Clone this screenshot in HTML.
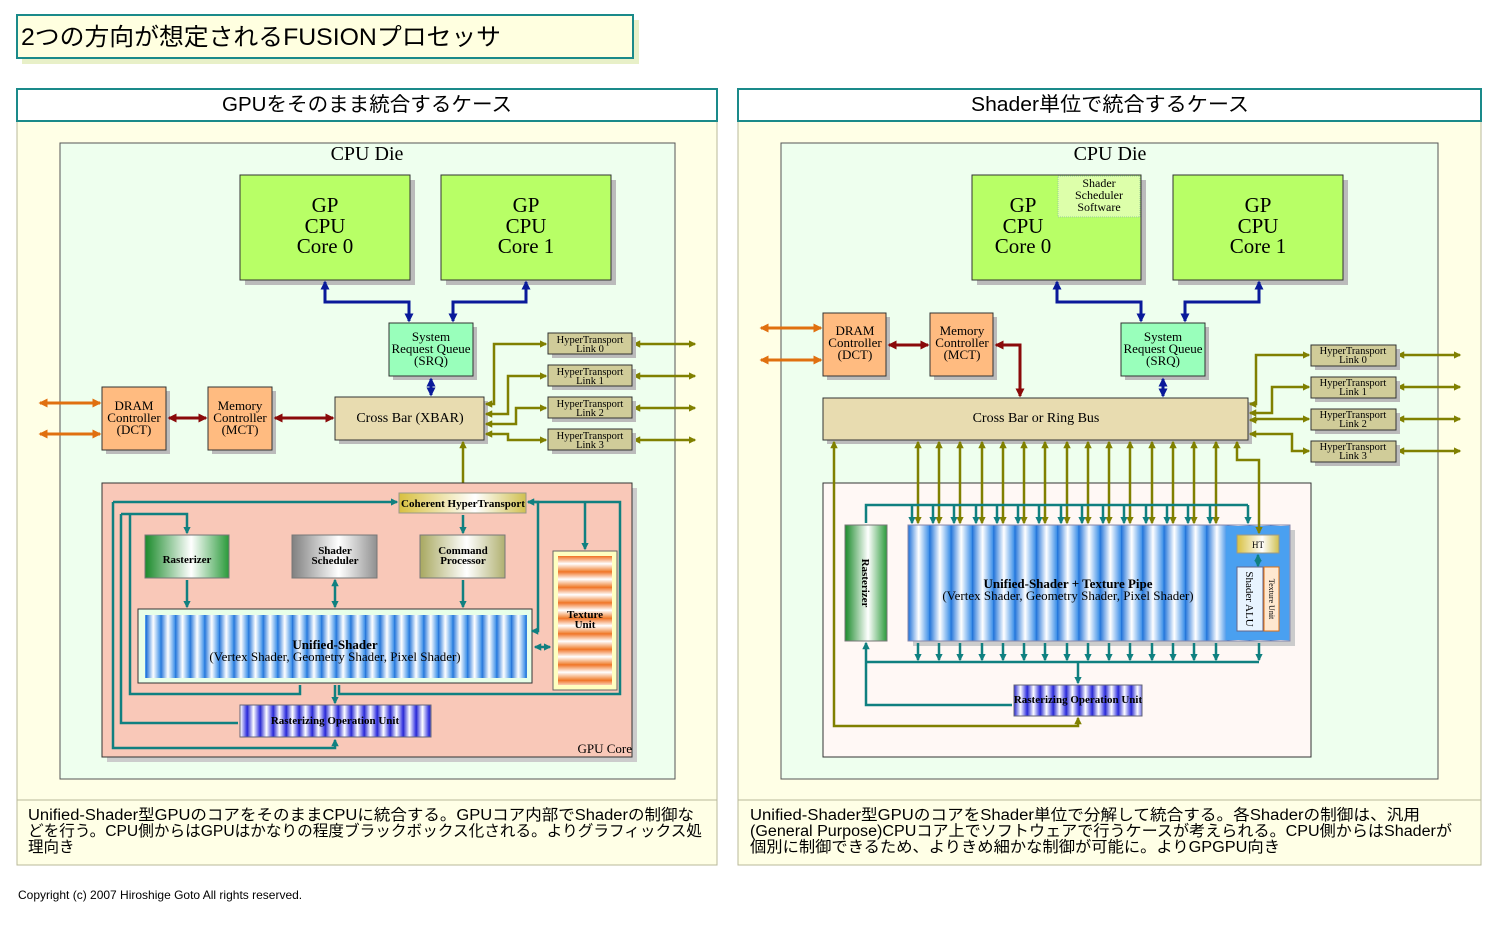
<!DOCTYPE html>
<html><head><meta charset="utf-8"><style>
html,body{margin:0;padding:0;background:#fff}
svg{display:block}
.s{font-family:"Liberation Serif","Noto Serif CJK SC",serif}
.j{font-family:"Liberation Sans","Noto Sans CJK JP",sans-serif}
</style></head><body>
<svg width="1500" height="925" viewBox="0 0 1500 925" xmlns="http://www.w3.org/2000/svg">
<defs>
<linearGradient id="bs" x1="0" x2="1"><stop offset="0" stop-color="#1a6fd8"/><stop offset="0.5" stop-color="#ffffff"/><stop offset="1" stop-color="#3a8ee8"/></linearGradient>
<pattern id="us" width="14.6" height="10" patternUnits="userSpaceOnUse"><rect width="14.6" height="10" fill="url(#bs)"/></pattern>
<pattern id="us2" width="21.3" height="10" patternUnits="userSpaceOnUse" x="908"><rect width="21.3" height="10" fill="url(#bs)"/></pattern>
<linearGradient id="ps" x1="0" x2="1"><stop offset="0" stop-color="#2020d0"/><stop offset="0.5" stop-color="#ffffff"/><stop offset="1" stop-color="#3030e0"/></linearGradient>
<pattern id="rop" width="13" height="10" patternUnits="userSpaceOnUse"><rect width="13" height="10" fill="url(#ps)"/></pattern>
<linearGradient id="os" x1="0" y1="0" x2="0" y2="1"><stop offset="0" stop-color="#f07020"/><stop offset="0.5" stop-color="#ffffff"/><stop offset="1" stop-color="#f08030"/></linearGradient>
<pattern id="tex" width="10" height="15.5" patternUnits="userSpaceOnUse" y="556"><rect width="10" height="15.5" fill="url(#os)"/></pattern>
<linearGradient id="gr" x1="0" x2="1"><stop offset="0" stop-color="#1a8a2a"/><stop offset="0.55" stop-color="#ffffff"/><stop offset="1" stop-color="#2a9a3a"/></linearGradient>
<linearGradient id="gy" x1="0" x2="1"><stop offset="0" stop-color="#808080"/><stop offset="0.55" stop-color="#ffffff"/><stop offset="1" stop-color="#909090"/></linearGradient>
<linearGradient id="ol" x1="0" x2="1"><stop offset="0" stop-color="#a8a860"/><stop offset="0.55" stop-color="#ffffff"/><stop offset="1" stop-color="#b0b070"/></linearGradient>
<linearGradient id="ht" x1="0" x2="1"><stop offset="0" stop-color="#d8c040"/><stop offset="0.6" stop-color="#ffffff"/><stop offset="1" stop-color="#d0c050"/></linearGradient>
<marker id="ab" viewBox="0 0 6 6" refX="5" refY="3" markerWidth="3" markerHeight="3" orient="auto-start-reverse"><path d="M0,0L6,3L0,6z" fill="#0a1a9a"/></marker>
<marker id="ao" viewBox="0 0 6 6" refX="5" refY="3" markerWidth="3" markerHeight="3" orient="auto-start-reverse"><path d="M0,0L6,3L0,6z" fill="#808000"/></marker>
<marker id="at" viewBox="0 0 6 6" refX="5" refY="3" markerWidth="3" markerHeight="3" orient="auto-start-reverse"><path d="M0,0L6,3L0,6z" fill="#108080"/></marker>
<marker id="ar" viewBox="0 0 6 6" refX="5" refY="3" markerWidth="3" markerHeight="3" orient="auto-start-reverse"><path d="M0,0L6,3L0,6z" fill="#8a0a0a"/></marker>
<marker id="aor" viewBox="0 0 6 6" refX="5" refY="3" markerWidth="3" markerHeight="3" orient="auto-start-reverse"><path d="M0,0L6,3L0,6z" fill="#e07010"/></marker>
</defs>

<!-- title -->
<rect x="22" y="20" width="617" height="44" fill="#e8f0c8"/>
<rect x="17" y="15" width="616" height="43" fill="#ffffe0" stroke="#1a8a8a" stroke-width="2"/>
<text x="21" y="45" class="j" font-size="24" textLength="480" lengthAdjust="spacingAndGlyphs">2つの方向が想定されるFUSIONプロセッサ</text>

<!-- LEFT PANEL -->
<rect x="17" y="121" width="700" height="744" fill="#ffffe6" stroke="#b8b89a"/>
<rect x="17" y="89" width="700" height="32" fill="#fff" stroke="#1a8a8a" stroke-width="2"/>
<text x="367" y="111" class="j" font-size="20" text-anchor="middle" textLength="290" lengthAdjust="spacingAndGlyphs">GPUをそのまま統合するケース</text>
<line x1="17" y1="800" x2="717" y2="800" stroke="#b8b89a"/>
<g class="j" font-size="15.5">
<text x="28" y="820" textLength="666" lengthAdjust="spacingAndGlyphs">Unified-Shader型GPUのコアをそのままCPUに統合する。GPUコア内部でShaderの制御な</text>
<text x="28" y="836" textLength="674" lengthAdjust="spacingAndGlyphs">どを行う。CPU側からはGPUはかなりの程度ブラックボックス化される。よりグラフィックス処</text>
<text x="28" y="852">理向き</text>
</g>
<rect x="60" y="143" width="615" height="636" fill="#eeffee" stroke="#555"/>
<text x="367" y="160" class="s" font-size="20" text-anchor="middle">CPU Die</text>

<g class="s">
<rect x="245" y="180" width="170" height="105" fill="#bbb"/>
<rect x="240" y="175" width="170" height="105" fill="#b8ff66" stroke="#333"/>
<text x="325" y="212" font-size="21" text-anchor="middle">GP</text><text x="325" y="233" font-size="21" text-anchor="middle">CPU</text><text x="325" y="253" font-size="21" text-anchor="middle">Core 0</text>
<rect x="446" y="180" width="170" height="105" fill="#bbb"/>
<rect x="441" y="175" width="170" height="105" fill="#b8ff66" stroke="#333"/>
<text x="526" y="212" font-size="21" text-anchor="middle">GP</text><text x="526" y="233" font-size="21" text-anchor="middle">CPU</text><text x="526" y="253" font-size="21" text-anchor="middle">Core 1</text>

<path d="M325,282V302H409V321" fill="none" stroke="#0a1a9a" stroke-width="3" marker-start="url(#ab)" marker-end="url(#ab)"/>
<path d="M526,282V302H453V321" fill="none" stroke="#0a1a9a" stroke-width="3" marker-start="url(#ab)" marker-end="url(#ab)"/>
<rect x="393" y="327" width="84" height="53" fill="#bbb"/>
<rect x="389" y="323" width="84" height="53" fill="#99ffbb" stroke="#333"/>
<text x="431" y="341" font-size="13" text-anchor="middle">System</text><text x="431" y="353" font-size="13" text-anchor="middle">Request Queue</text><text x="431" y="365" font-size="13" text-anchor="middle">(SRQ)</text>
<path d="M431,379V395" stroke="#0a1a9a" stroke-width="3" marker-start="url(#ab)" marker-end="url(#ab)"/>

<rect x="106" y="391" width="64" height="63" fill="#bbb"/>
<rect x="102" y="387" width="64" height="63" fill="#ffbb80" stroke="#333"/>
<text x="134" y="410" font-size="13" text-anchor="middle">DRAM</text><text x="134" y="422" font-size="13" text-anchor="middle">Controller</text><text x="134" y="434" font-size="13" text-anchor="middle">(DCT)</text>
<rect x="212" y="391" width="64" height="63" fill="#bbb"/>
<rect x="208" y="387" width="64" height="63" fill="#ffbb80" stroke="#333"/>
<text x="240" y="410" font-size="13" text-anchor="middle">Memory</text><text x="240" y="422" font-size="13" text-anchor="middle">Controller</text><text x="240" y="434" font-size="13" text-anchor="middle">(MCT)</text>
<g stroke="#e07010" stroke-width="3" marker-start="url(#aor)" marker-end="url(#aor)">
<path d="M40,403H100"/><path d="M40,434H100"/></g>
<g stroke="#8a0a0a" stroke-width="3" marker-start="url(#ar)" marker-end="url(#ar)">
<path d="M169,418H206"/><path d="M275,418H333"/></g>

<rect x="339" y="401" width="149" height="43" fill="#bbb"/>
<rect x="335" y="397" width="149" height="43" fill="#e8dcb0" stroke="#333"/>
<text x="410" y="422" font-size="14" text-anchor="middle">Cross Bar (XBAR)</text>

<g fill="none" stroke="#808000" stroke-width="2.5" marker-start="url(#ao)" marker-end="url(#ao)">
<path d="M486,404H494V344H546"/>
<path d="M486,414H508V376H546"/>
<path d="M486,424H516V408H546"/>
<path d="M486,434H508V440H546"/>
<path d="M634,344H695"/><path d="M634,376H695"/><path d="M634,408H695"/><path d="M634,440H695"/>
</g>
<path d="M463,442V491" fill="none" stroke="#808000" stroke-width="2.5" marker-start="url(#ao)"/>
<g font-size="10.5" text-anchor="middle">
<rect x="552" y="337" width="84" height="21" fill="#bbb"/><rect x="548" y="333" width="84" height="21" fill="#d0cc99" stroke="#333"/><text x="590" y="343">HyperTransport</text><text x="590" y="352">Link 0</text>
<rect x="552" y="369" width="84" height="21" fill="#bbb"/><rect x="548" y="365" width="84" height="21" fill="#d0cc99" stroke="#333"/><text x="590" y="375">HyperTransport</text><text x="590" y="384">Link 1</text>
<rect x="552" y="401" width="84" height="21" fill="#bbb"/><rect x="548" y="397" width="84" height="21" fill="#d0cc99" stroke="#333"/><text x="590" y="407">HyperTransport</text><text x="590" y="416">Link 2</text>
<rect x="552" y="433" width="84" height="21" fill="#bbb"/><rect x="548" y="429" width="84" height="21" fill="#d0cc99" stroke="#333"/><text x="590" y="439">HyperTransport</text><text x="590" y="448">Link 3</text>
</g>

<!-- GPU core -->
<rect x="107" y="488" width="530" height="274" fill="#ccc"/>
<rect x="102" y="483" width="530" height="274" fill="#f9c8b8" stroke="#333"/>
<text x="632" y="753" font-size="13" text-anchor="end">GPU Core</text>
<rect x="399" y="493" width="127" height="20" fill="url(#ht)" stroke="#998"/>
<text x="463" y="507" font-size="11" font-weight="bold" text-anchor="middle">Coherent HyperTransport</text>
<rect x="145" y="535" width="84" height="43" fill="url(#gr)" stroke="#777"/>
<text x="187" y="563" font-size="11" font-weight="bold" text-anchor="middle">Rasterizer</text>
<rect x="292" y="535" width="85" height="43" fill="url(#gy)" stroke="#777"/>
<text x="335" y="554" font-size="11" font-weight="bold" text-anchor="middle">Shader</text><text x="335" y="564" font-size="11" font-weight="bold" text-anchor="middle">Scheduler</text>
<rect x="420" y="535" width="85" height="43" fill="url(#ol)" stroke="#777"/>
<text x="463" y="554" font-size="11" font-weight="bold" text-anchor="middle">Command</text><text x="463" y="564" font-size="11" font-weight="bold" text-anchor="middle">Processor</text>
<rect x="553" y="551" width="64" height="139" fill="#ffffc0" stroke="#666"/>
<rect x="558" y="556" width="54" height="129" fill="url(#tex)"/>
<text x="585" y="618" font-size="11" font-weight="bold" text-anchor="middle">Texture</text><text x="585" y="628" font-size="11" font-weight="bold" text-anchor="middle">Unit</text>
<rect x="138" y="609" width="394" height="74" fill="#e8ffe8" stroke="#333"/>
<rect x="145" y="615" width="382" height="63" fill="url(#us)"/>
<text x="335" y="649" font-size="13" font-weight="bold" text-anchor="middle">Unified-Shader</text>
<text x="335" y="661" font-size="13" text-anchor="middle">(Vertex Shader, Geometry Shader, Pixel Shader)</text>
<rect x="240" y="705" width="191" height="32" fill="url(#rop)" stroke="#667"/>
<text x="335" y="724" font-size="11" font-weight="bold" text-anchor="middle">Rasterizing Operation Unit</text>

<g fill="none" stroke="#108080" stroke-width="2.5">
<path d="M113,502H397" marker-end="url(#at)"/>
<path d="M113,502V748H335V740" marker-end="url(#at)"/>
<path d="M528,502H620V694H339V685"/>
<path d="M528,502H538V631H532" marker-start="url(#at)" marker-end="url(#at)"/>
<path d="M585,502V549" marker-end="url(#at)"/>
<path d="M121,514H187V533" marker-end="url(#at)"/>
<path d="M121,514V723H238"/>
<path d="M130,514V694H300V685"/>
<path d="M187,580V607" marker-end="url(#at)"/>
<path d="M335,580V607" marker-start="url(#at)" marker-end="url(#at)"/>
<path d="M463,515V533" marker-end="url(#at)"/>
<path d="M463,580V607" marker-end="url(#at)"/>
<path d="M535,647H550" marker-start="url(#at)" marker-end="url(#at)"/>
<path d="M335,685V703" marker-end="url(#at)"/>
</g>
</g>

<!-- RIGHT PANEL -->
<rect x="738" y="121" width="743" height="744" fill="#ffffe6" stroke="#b8b89a"/>
<rect x="738" y="89" width="743" height="32" fill="#fff" stroke="#1a8a8a" stroke-width="2"/>
<text x="1110" y="111" class="j" font-size="20" text-anchor="middle" textLength="278" lengthAdjust="spacingAndGlyphs">Shader単位で統合するケース</text>
<line x1="738" y1="800" x2="1481" y2="800" stroke="#b8b89a"/>
<g class="j" font-size="15.5">
<text x="750" y="820" textLength="670" lengthAdjust="spacingAndGlyphs">Unified-Shader型GPUのコアをShader単位で分解して統合する。各Shaderの制御は、汎用</text>
<text x="750" y="836" textLength="702" lengthAdjust="spacingAndGlyphs">(General Purpose)CPUコア上でソフトウェアで行うケースが考えられる。CPU側からはShaderが</text>
<text x="750" y="852" textLength="530" lengthAdjust="spacingAndGlyphs">個別に制御できるため、よりきめ細かな制御が可能に。よりGPGPU向き</text>
</g>
<rect x="781" y="143" width="657" height="636" fill="#eeffee" stroke="#555"/>
<text x="1110" y="160" class="s" font-size="20" text-anchor="middle">CPU Die</text>

<g class="s">
<rect x="977" y="180" width="169" height="105" fill="#bbb"/>
<rect x="972" y="175" width="169" height="105" fill="#b8ff66" stroke="#333"/>
<rect x="1058" y="176" width="82" height="41" fill="#ddffaa" stroke="#9c9" stroke-dasharray="1,1"/>
<text x="1099" y="187" font-size="12" text-anchor="middle">Shader</text><text x="1099" y="199" font-size="12" text-anchor="middle">Scheduler</text><text x="1099" y="211" font-size="12" text-anchor="middle">Software</text>
<text x="1023" y="212" font-size="21" text-anchor="middle">GP</text><text x="1023" y="233" font-size="21" text-anchor="middle">CPU</text><text x="1023" y="253" font-size="21" text-anchor="middle">Core 0</text>
<rect x="1178" y="180" width="170" height="105" fill="#bbb"/>
<rect x="1173" y="175" width="170" height="105" fill="#b8ff66" stroke="#333"/>
<text x="1258" y="212" font-size="21" text-anchor="middle">GP</text><text x="1258" y="233" font-size="21" text-anchor="middle">CPU</text><text x="1258" y="253" font-size="21" text-anchor="middle">Core 1</text>
<path d="M1057,282V302H1141V321" fill="none" stroke="#0a1a9a" stroke-width="3" marker-start="url(#ab)" marker-end="url(#ab)"/>
<path d="M1259,282V302H1185V321" fill="none" stroke="#0a1a9a" stroke-width="3" marker-start="url(#ab)" marker-end="url(#ab)"/>
<rect x="1125" y="327" width="84" height="53" fill="#bbb"/>
<rect x="1121" y="323" width="84" height="53" fill="#99ffbb" stroke="#333"/>
<text x="1163" y="341" font-size="13" text-anchor="middle">System</text><text x="1163" y="353" font-size="13" text-anchor="middle">Request Queue</text><text x="1163" y="365" font-size="13" text-anchor="middle">(SRQ)</text>
<path d="M1163,379V396" stroke="#0a1a9a" stroke-width="3" marker-start="url(#ab)" marker-end="url(#ab)"/>

<rect x="827" y="317" width="63" height="63" fill="#bbb"/>
<rect x="823" y="313" width="63" height="63" fill="#ffbb80" stroke="#333"/>
<text x="855" y="335" font-size="13" text-anchor="middle">DRAM</text><text x="855" y="347" font-size="13" text-anchor="middle">Controller</text><text x="855" y="359" font-size="13" text-anchor="middle">(DCT)</text>
<rect x="934" y="317" width="63" height="63" fill="#bbb"/>
<rect x="930" y="313" width="63" height="63" fill="#ffbb80" stroke="#333"/>
<text x="962" y="335" font-size="13" text-anchor="middle">Memory</text><text x="962" y="347" font-size="13" text-anchor="middle">Controller</text><text x="962" y="359" font-size="13" text-anchor="middle">(MCT)</text>
<g stroke="#e07010" stroke-width="3" marker-start="url(#aor)" marker-end="url(#aor)">
<path d="M761,328H821"/><path d="M761,360H821"/></g>
<path d="M889,345H928" stroke="#8a0a0a" stroke-width="3" marker-start="url(#ar)" marker-end="url(#ar)"/>
<path d="M996,345H1020V396" fill="none" stroke="#8a0a0a" stroke-width="3" marker-start="url(#ar)" marker-end="url(#ar)"/>

<rect x="827" y="402" width="425" height="42" fill="#bbb"/>
<rect x="823" y="398" width="425" height="42" fill="#e8dcb0" stroke="#333"/>
<text x="1036" y="422" font-size="14" text-anchor="middle">Cross Bar or Ring Bus</text>

<g fill="none" stroke="#808000" stroke-width="2.5" marker-start="url(#ao)" marker-end="url(#ao)">
<path d="M1250,404H1256V355H1309"/>
<path d="M1250,413H1272V387H1309"/>
<path d="M1250,420H1256V419H1309"/>
<path d="M1250,434H1292V451H1309"/>
<path d="M1398,355H1460"/><path d="M1398,387H1460"/><path d="M1398,419H1460"/><path d="M1398,451H1460"/>
</g>
<g font-size="10.5" text-anchor="middle">
<rect x="1315" y="349" width="85" height="21" fill="#bbb"/><rect x="1311" y="345" width="85" height="21" fill="#d0cc99" stroke="#333"/><text x="1353" y="354">HyperTransport</text><text x="1353" y="363">Link 0</text>
<rect x="1315" y="381" width="85" height="21" fill="#bbb"/><rect x="1311" y="377" width="85" height="21" fill="#d0cc99" stroke="#333"/><text x="1353" y="386">HyperTransport</text><text x="1353" y="395">Link 1</text>
<rect x="1315" y="413" width="85" height="21" fill="#bbb"/><rect x="1311" y="409" width="85" height="21" fill="#d0cc99" stroke="#333"/><text x="1353" y="418">HyperTransport</text><text x="1353" y="427">Link 2</text>
<rect x="1315" y="445" width="85" height="21" fill="#bbb"/><rect x="1311" y="441" width="85" height="21" fill="#d0cc99" stroke="#333"/><text x="1353" y="450">HyperTransport</text><text x="1353" y="459">Link 3</text>
</g>

<rect x="823" y="483" width="488" height="274" fill="#fff8f5" stroke="#333"/>
<rect x="845" y="525" width="42" height="116" fill="url(#gr)" stroke="#777"/>
<text transform="translate(862,583) rotate(90)" font-size="11" font-weight="bold" text-anchor="middle">Rasterizer</text>
<rect x="913" y="530" width="382" height="116" fill="#ccc"/>
<rect x="908" y="525" width="382" height="116" fill="url(#us2)" stroke="#88a"/>
<rect x="1226" y="526" width="63" height="114" fill="#4aa0f0"/>
<rect x="1237" y="535" width="42" height="18" fill="url(#ht)" stroke="#998"/>
<text x="1258" y="548" font-size="9" text-anchor="middle">HT</text>
<rect x="1237" y="567" width="26" height="64" fill="#e8f4ff" stroke="#668"/>
<rect x="1264" y="567" width="15" height="64" fill="#ffe8d0" stroke="#e07010"/>
<text transform="translate(1246,599) rotate(90)" font-size="11" text-anchor="middle">Shader ALU</text>
<text transform="translate(1269,599) rotate(90)" font-size="8" text-anchor="middle">Texture Unit</text>
<text x="1068" y="588" font-size="13" font-weight="bold" text-anchor="middle">Unified-Shader + Texture Pipe</text>
<text x="1068" y="600" font-size="13" text-anchor="middle">(Vertex Shader, Geometry Shader, Pixel Shader)</text>
<path d="M1258,555V566" stroke="#108080" stroke-width="2.5" marker-start="url(#at)" marker-end="url(#at)"/>
<rect x="1014" y="685" width="128" height="31" fill="url(#rop)" stroke="#667"/>
<text x="1078" y="703" font-size="11" font-weight="bold" text-anchor="middle">Rasterizing Operation Unit</text>

<g fill="none" stroke="#808000" stroke-width="2.5" marker-start="url(#ao)" marker-end="url(#ao)">
<path d="M918,442V523"/><path d="M939,442V523"/><path d="M960,442V523"/><path d="M982,442V523"/><path d="M1003,442V523"/><path d="M1024,442V523"/><path d="M1045,442V523"/><path d="M1067,442V523"/><path d="M1088,442V523"/><path d="M1109,442V523"/><path d="M1130,442V523"/><path d="M1152,442V523"/><path d="M1173,442V523"/><path d="M1194,442V523"/><path d="M1216,442V523"/>
<path d="M1237,442V460H1259V533"/>
<path d="M834,442V726H1078V718"/>
</g>
<g fill="none" stroke="#108080" stroke-width="2.5">
<path d="M866,523V505H1248"/>
</g>
<g fill="none" stroke="#108080" stroke-width="2.5" marker-end="url(#at)">
<path d="M912,505V523"/><path d="M933,505V523"/><path d="M954,505V523"/><path d="M976,505V523"/><path d="M997,505V523"/><path d="M1018,505V523"/><path d="M1039,505V523"/><path d="M1061,505V523"/><path d="M1082,505V523"/><path d="M1103,505V523"/><path d="M1124,505V523"/><path d="M1146,505V523"/><path d="M1167,505V523"/><path d="M1188,505V523"/><path d="M1210,505V523"/><path d="M1248,505V523"/>
<path d="M918,643V660"/><path d="M939,643V660"/><path d="M960,643V660"/><path d="M982,643V660"/><path d="M1003,643V660"/><path d="M1024,643V660"/><path d="M1045,643V660"/><path d="M1067,643V660"/><path d="M1088,643V660"/><path d="M1109,643V660"/><path d="M1130,643V660"/><path d="M1152,643V660"/><path d="M1173,643V660"/><path d="M1194,643V660"/><path d="M1216,643V660"/><path d="M1259,643V660"/>
<path d="M1078,662V683"/>
<path d="M1012,705H866V643"/>
</g>
<path d="M866,662H1259" fill="none" stroke="#108080" stroke-width="2.5"/>
</g>

<text x="18" y="899" class="j" font-size="12">Copyright (c) 2007 Hiroshige Goto All rights reserved.</text>
</svg>
</body></html>
